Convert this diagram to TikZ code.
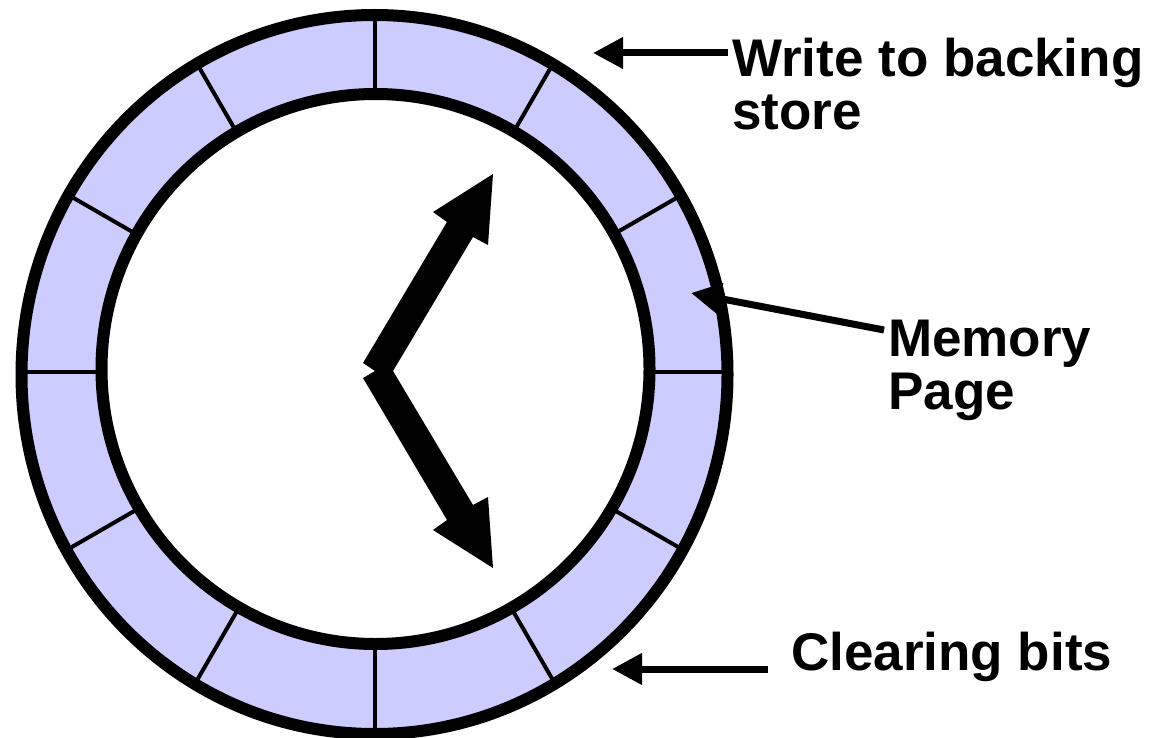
\documentclass[tikz,border=0pt]{standalone}
\usepackage{fontspec}
\setmainfont{Liberation Sans}
\usetikzlibrary{arrows.meta}
\definecolor{pagefill}{RGB}{204,204,255}
\tikzset{
  rim/.style={line width=12pt},
  divider/.style={line width=4pt},
  pointer/.style={line width=7pt, -{Triangle[length=30pt,width=30pt]}},
  callout/.style={anchor=base west, inner sep=0pt, font=\fontsize{53}{53}\selectfont\bfseries},
  hand/.style={fill=black},
}
\begin{document}
\begin{tikzpicture}[x=1pt,y=-1pt]
\useasboundingbox (0,0) rectangle (1153,738);

% ring of memory pages
\fill[pagefill, even odd rule]
  (374.5,374.5) ellipse [x radius=353, y radius=359.5]
  (375.5,369) ellipse [x radius=274, y radius=275];
\begin{scope}
  \clip (374.5,374.5) ellipse [x radius=353, y radius=359.5];
  \foreach \a in {0,30,...,330} \draw[divider] (375,372) -- ++(\a:420);
\end{scope}
\fill[white] (375.5,369) ellipse [x radius=274, y radius=275];
\draw[rim] (374.5,374.5) ellipse [x radius=353, y radius=359.5];
\draw[rim] (375.5,369) ellipse [x radius=274, y radius=275];

% the two clock hands
\coordinate (hub) at (375,371);
\fill[hand] (363,363) -- (447,222) -- (433,212) -- (493,174) -- (488,245)
  -- (473,237) -- (393,371) -- (473,505) -- (488,497) -- (493,568)
  -- (433,530) -- (447,520) -- (363,378) -- (hub) -- cycle;

% labels and pointers
\node[callout] (write) at (732,77)
  {\begin{tabular}[t]{@{}l@{}}Write to backing\\store\end{tabular}};
\node[callout] (mem) at (888,356)
  {\begin{tabular}[t]{@{}l@{}}Memory\\Page\end{tabular}};
\node[callout] (clear) at (791,670) {Clearing bits};

\coordinate (wstart) at (728,53);
\coordinate (wtip) at (593,53);
\coordinate (mstart) at (884,330);
\coordinate (mtip) at (691,293);
\coordinate (cstart) at (768,669);
\coordinate (ctip) at (612,669);
\draw[pointer] (wstart) -- (wtip);
\draw[pointer] (mstart) -- (mtip);
\draw[pointer] (cstart) -- (ctip);
\end{tikzpicture}
\end{document}
